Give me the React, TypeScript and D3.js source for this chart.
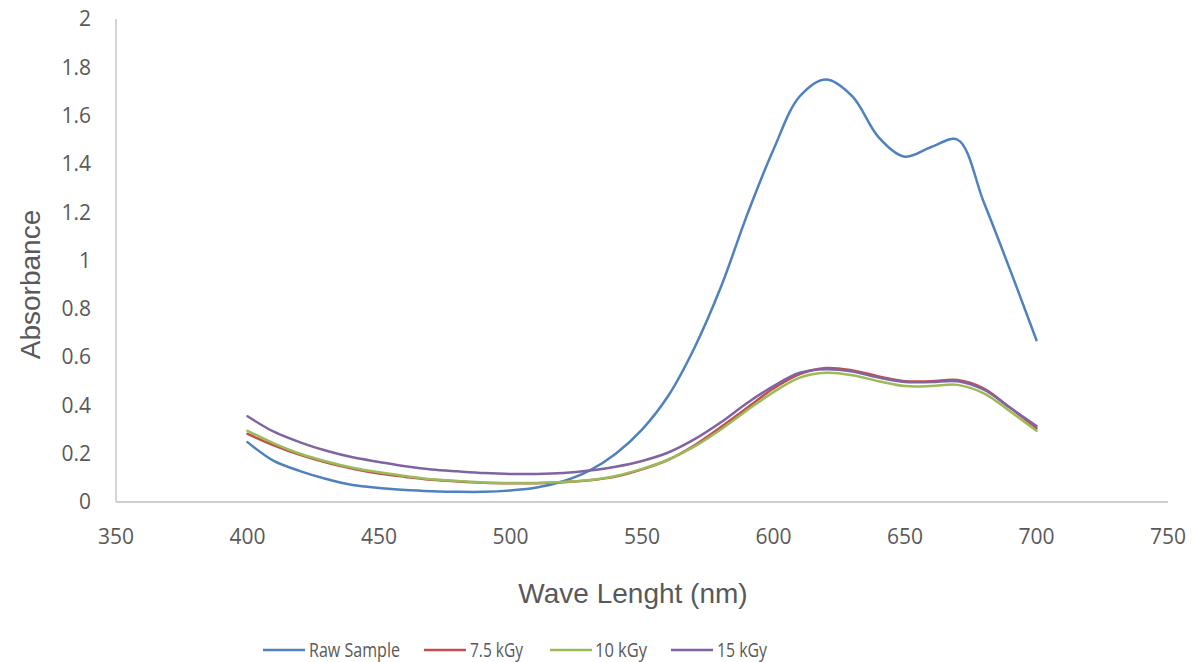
import React from "react";
import * as d3 from "d3";

const wavelengths = [
  400, 410, 420, 430, 440, 450, 460, 470, 480, 490, 500, 510, 520, 530, 540, 550,
  560, 570, 580, 590, 600, 610, 620, 630, 640, 650, 660, 670, 680, 690, 700,
];

const rawSample = [
  0.248, 0.17, 0.128, 0.095, 0.07, 0.058, 0.05, 0.045, 0.042, 0.042, 0.048, 0.06, 0.086, 0.13, 0.2, 0.3,
  0.44, 0.64, 0.89, 1.19, 1.46, 1.68, 1.75, 1.68, 1.51, 1.43, 1.47, 1.5, 1.24, 0.96, 0.67,
];
const kGy75 = [
  0.282, 0.235, 0.195, 0.163, 0.138, 0.118, 0.104, 0.092, 0.085, 0.08, 0.078, 0.078, 0.082, 0.09, 0.105, 0.135,
  0.175, 0.235, 0.31, 0.39, 0.47, 0.53, 0.555, 0.545, 0.52, 0.5, 0.5, 0.505, 0.47, 0.39, 0.305,
];
const kGy10 = [
  0.295, 0.243, 0.2, 0.168, 0.142, 0.123, 0.108, 0.094, 0.087, 0.081, 0.079, 0.079, 0.083, 0.091, 0.108, 0.137,
  0.175, 0.23, 0.3, 0.38, 0.455, 0.515, 0.535, 0.525, 0.5, 0.48, 0.48, 0.485, 0.45, 0.375, 0.295,
];
const kGy15 = [
  0.355, 0.291, 0.247, 0.212, 0.185, 0.166, 0.148, 0.135, 0.127, 0.12, 0.116, 0.116, 0.12, 0.13, 0.146, 0.17,
  0.205, 0.26, 0.33, 0.41, 0.48, 0.535, 0.55, 0.54, 0.515, 0.497, 0.497, 0.5, 0.465, 0.39, 0.315,
];

const seriesNames = ["Raw Sample", "7.5 kGy", "10 kGy", "15 kGy"];
const seriesColors = ["#4F81BD", "#C0504D", "#9BBB59", "#8064A2"];
const xTicks = [350, 400, 450, 500, 550, 600, 650, 700, 750];
const yTicks = [0, 0.2, 0.4, 0.6, 0.8, 1, 1.2, 1.4, 1.6, 1.8, 2];

const App = () => {
  const width = 1195;
  const height = 662;
  const margin = { left: 116, top: 19, right: 27, bottom: 160 };

  const x = d3.scaleLinear().domain([350, 750]).range([margin.left, width - margin.right]);
  const y = d3.scaleLinear().domain([0, 2]).range([height - margin.bottom, margin.top]);

  const allSeries = [rawSample, kGy75, kGy10, kGy15];

  const line = d3
    .line<number>()
    .x((_, i) => x(wavelengths[i]))
    .y((d) => y(d))
    .curve(d3.curveCatmullRom.alpha(0.5));

  const tickFont = "'Open Sans', 'DejaVu Sans', sans-serif";
  const titleFont = "'Liberation Sans', Arial, sans-serif";
  const legendFont = "'Open Sans', sans-serif";
  const textColor = "#595959";

  // legend: line start, text start, text width (narrow font look)
  const legendItems = [
    { lx: 263, tx: 309, tw: 91 },
    { lx: 424, tx: 470, tw: 53 },
    { lx: 550, tx: 595, tw: 52 },
    { lx: 671, tx: 717, tw: 50 },
  ];
  const legendY = 650;

  return (
    <svg
      width={width}
      height={height}
      style={{ position: "absolute", left: 0, top: 0, background: "#fff" }}
    >
      {/* axes */}
      <line x1={x(350)} x2={x(350)} y1={y(0)} y2={y(2)} stroke="#bfbfbf" strokeWidth={1.3} />
      <line x1={x(350)} x2={x(750)} y1={y(0)} y2={y(0)} stroke="#bfbfbf" strokeWidth={1.3} />

      {yTicks.map((t) => (
        <text
          key={"y" + t}
          x={91}
          y={y(t)}
          dy="0.35em"
          textAnchor="end"
          fontFamily={tickFont}
          fontSize={21}
          fill={textColor}
        >
          {t}
        </text>
      ))}
      {xTicks.map((t) => (
        <text
          key={"x" + t}
          x={x(t)}
          y={537}
          dy="0.35em"
          textAnchor="middle"
          fontFamily={tickFont}
          fontSize={21}
          fill={textColor}
        >
          {t}
        </text>
      ))}

      <text
        transform={`translate(30, ${(y(0) + y(2)) / 2 + 24}) rotate(-90)`}
        textAnchor="middle"
        dy="0.35em"
        fontFamily={titleFont}
        fontSize={28}
        fill={textColor}
      >
        Absorbance
      </text>
      <text
        x={633}
        y={593}
        dy="0.35em"
        textAnchor="middle"
        fontFamily={titleFont}
        fontSize={28}
        fill={textColor}
      >
        Wave Lenght (nm)
      </text>

      {allSeries.map((s, i) => (
        <path
          key={seriesNames[i]}
          d={line(s) || ""}
          fill="none"
          stroke={seriesColors[i]}
          strokeWidth={2.5}
          strokeLinejoin="round"
          strokeLinecap="round"
        />
      ))}

      {legendItems.map((l, i) => (
        <g key={"lg" + i}>
          <line x1={l.lx} x2={l.lx + 42} y1={legendY} y2={legendY} stroke={seriesColors[i]} strokeWidth={2.5} />
          <text
            x={l.tx}
            y={legendY}
            dy="0.35em"
            fontFamily={legendFont}
            fontSize={20}
            textLength={l.tw}
            lengthAdjust="spacingAndGlyphs"
            fill={textColor}
          >
            {seriesNames[i]}
          </text>
        </g>
      ))}
    </svg>
  );
};

export default App;
